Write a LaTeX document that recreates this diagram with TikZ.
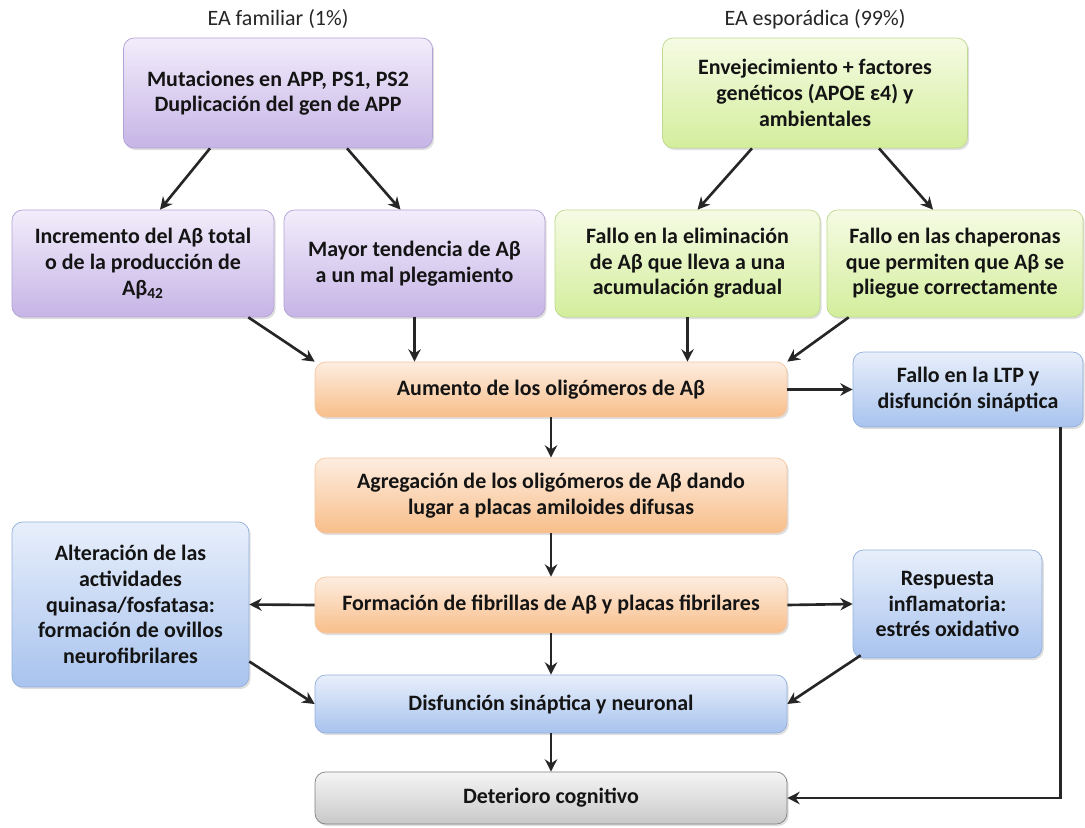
\documentclass[tikz,border=0pt]{standalone}
\usepackage{fontspec}
\setmainfont{Carlito}
\usepackage{tikz}
\usetikzlibrary{positioning, arrows.meta, calc, shadows}
\definecolor{lilatop}{HTML}{F2EDFB}
\definecolor{lilabot}{HTML}{C6B4E6}
\definecolor{lilaborde}{HTML}{B3A2D4}
\definecolor{verdetop}{HTML}{F6FBE4}
\definecolor{verdebot}{HTML}{D3EE9C}
\definecolor{verdeborde}{HTML}{C0D98E}
\definecolor{naranjatop}{HTML}{FDEDE0}
\definecolor{naranjabot}{HTML}{F8BE8A}
\definecolor{naranjaborde}{HTML}{F2C7A2}
\definecolor{azultop}{HTML}{E8EFFB}
\definecolor{azulbot}{HTML}{A8C3EE}
\definecolor{azulborde}{HTML}{93AFDB}
\definecolor{gristop}{HTML}{F5F5F5}
\definecolor{grisbot}{HTML}{C8C8C8}
\definecolor{grisborde}{HTML}{808080}
\tikzset{
    >={Stealth[length=7pt,width=7pt]}, % small filled heads
    caja/.style={draw, rounded corners=6pt, align=center, inner sep=2pt, text=black!92,
        font=\bfseries\fontsize{12.5}{14.6}\selectfont,
        drop shadow={opacity=0.25, shadow xshift=1pt, shadow yshift=-1.2pt}},
    familiar/.style={caja, draw=lilaborde, top color=lilatop, bottom color=lilabot},
    esporadica/.style={caja, draw=verdeborde, top color=verdetop, bottom color=verdebot},
    amiloide/.style={caja, draw=naranjaborde, top color=naranjatop, bottom color=naranjabot},
    dano/.style={caja, draw=azulborde, top color=azultop, bottom color=azulbot},
    final/.style={caja, draw=grisborde, top color=gristop, bottom color=grisbot},
    flecha/.style={->, line width=1.5pt, draw=black!85},
    titulo/.style={text=black!85, font=\fontsize{12.5}{14.6}\selectfont}
}

\begin{document}
\begin{tikzpicture}[x=0.02cm, y=-0.02cm]
    \useasboundingbox (0,0) rectangle (1085,828);

    % origins
    \node[titulo] (famttl) at (278,19) {EA familiar (1\%)};
    \node[titulo] (espttl) at (815,19) {EA esporádica (99\%)};
    \node[familiar, minimum width=6.18cm, minimum height=2.2cm] (mut) at (278,93) {Mutaciones en APP, PS1, PS2\\Duplicación del gen de APP};
    \node[esporadica, minimum width=6.1cm, minimum height=2.2cm] (env) at (815,93) {Envejecimiento + factores\\genéticos (APOE ε4) y\\ambientales};

    % second row
    \node[familiar, minimum width=5.24cm, minimum height=2.14cm] (inc) at (143,263.5) {Incremento del Aβ total\\o de la producción de\\Aβ\textsubscript{42}};
    \node[familiar, minimum width=5.22cm, minimum height=2.14cm] (may) at (414.5,263.5) {Mayor tendencia de Aβ\\a un mal plegamiento};
    \node[esporadica, minimum width=5.3cm, minimum height=2.14cm] (eli) at (687.5,263.5) {Fallo en la eliminación\\de Aβ que lleva a una\\acumulación gradual};
    \node[esporadica, minimum width=5.12cm, minimum height=2.14cm] (cha) at (955,263.5) {Fallo en las chaperonas\\que permiten que Aβ se\\pliegue correctamente};

    % amyloid cascade
    \node[amiloide, minimum width=9.44cm, minimum height=1.1cm] (aum) at (551,389.5) {Aumento de los oligómeros de Aβ};
    \node[dano, minimum width=4.6cm, minimum height=1.5cm] (ltp) at (968,389.5) {Fallo en la LTP y\\disfunción sináptica};
    \node[amiloide, minimum width=9.44cm, minimum height=1.5cm] (agr) at (551,495.5) {Agregación de los oligómeros de Aβ dando\\lugar a placas amiloides difusas};
    \node[amiloide, minimum width=9.44cm, minimum height=1.12cm] (for) at (551,605) {Formación de fibrillas de Aβ y placas fibrilares};
    \node[dano, minimum width=4.74cm, minimum height=3.3cm] (alt) at (130.5,604.5) {Alteración de las\\actividades\\quinasa/fosfatasa:\\formación de ovillos\\neurofibrilares};
    \node[dano, minimum width=3.78cm, minimum height=2.16cm] (res) at (947.5,604) {Respuesta\\inflamatoria:\\estrés oxidativo};
    \node[dano, minimum width=9.44cm, minimum height=1.16cm] (dis) at (551,704) {Disfunción sináptica y neuronal};
    \node[final, minimum width=9.44cm, minimum height=1.04cm] (det) at (551,798) {Deterioro cognitivo};

    \draw[flecha] ($(mut.south)+(-68,0)$) -- ($(inc.north)+(17,0)$);
    \draw[flecha] ($(mut.south)+(69,0)$) -- ($(may.north)+(-14,0)$);
    \draw[flecha] ($(env.south)+(-63,0)$) -- ($(eli.north)+(10,0)$);
    \draw[flecha] ($(env.south)+(64,0)$) -- ($(cha.north)+(-22,0)$);
    \draw[flecha] ($(inc.south east)+(-26,0)$) -- (aum.north west);
    \draw[flecha] (may.south) -- (may.south |- aum.north);
    \draw[flecha] (eli.south) -- (eli.south |- aum.north);
    \draw[flecha] ($(cha.south west)+(22,0)$) -- (aum.north east);
    \draw[flecha] (aum.east) -- (ltp.west);
    \draw[flecha] (aum) -- (agr);
    \draw[flecha] (agr) -- (for);
    \draw[flecha] (for.west) -- (alt.east);
    \draw[flecha] (for.east) -- (res.west);
    \draw[flecha] (for) -- (dis);
    \draw[flecha] ($(alt.east)+(0,57)$) -- (dis.west);
    \draw[flecha] ($(res.south west)+(8,-3)$) -- (dis.east);
    \draw[flecha] (dis) -- (det);
    \draw[flecha] ($(ltp.south east)+(-23,0)$) |- (det.east);
\end{tikzpicture}
\end{document}
